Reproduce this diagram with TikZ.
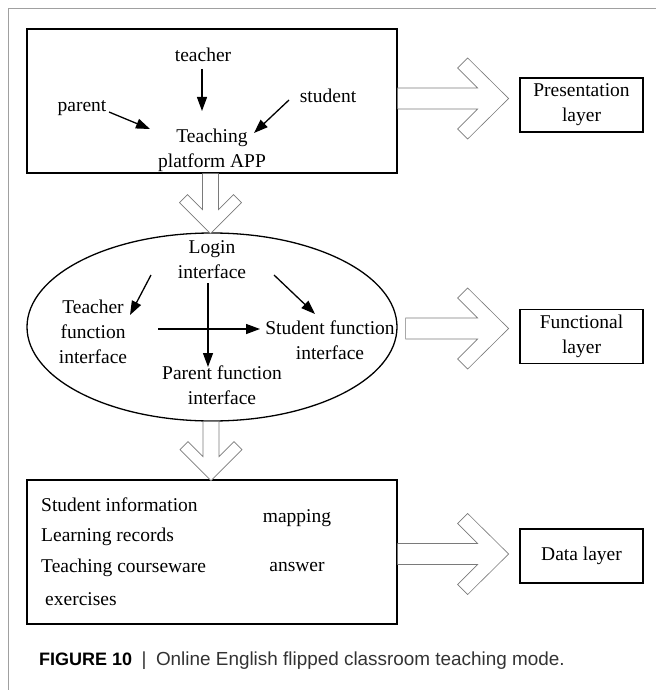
\documentclass[tikz,border=0pt]{standalone}
\usepackage{fontspec}
\setmainfont{Liberation Serif}
\newfontfamily\capfont{Liberation Sans}
\usetikzlibrary{arrows.meta,shapes.geometric,calc}
\definecolor{framegray}{HTML}{A0A0A0}
\definecolor{hollowgray}{HTML}{7A7A7A}
\definecolor{captext}{HTML}{333333}

% open block arrow pointing right: #1 start of shaft (centre line), #2 shaft length
\newcommand\hollowright[2]{%
  \draw[hollow] (#1) ++(0,-10.5) -- ++(#2,0) -- ++(-20,-20) -- ++(10,-10)
    -- ++(41,40.5) -- ++(-41,40.5) -- ++(-10,-10) -- ++(20,-20) -- ++(-#2,0) -- cycle;}
% open block arrow pointing down: #1 start of shaft (centre line), #2 shaft length
\newcommand\hollowdown[2]{%
  \draw[hollow] (#1) ++(-8,0) -- ++(0,#2) -- ++(-15,-15) -- ++(-8,8)
    -- ++(31,31) -- ++(31,-31) -- ++(-8,-8) -- ++(-15,15) -- ++(0,-#2) -- cycle;}

\begin{document}
\begin{tikzpicture}[x=1pt,y=-1pt,
  txt/.style={font=\fontsize{19.5}{25}\selectfont, align=center, inner sep=2pt},
  ltxt/.style={font=\fontsize{19.5}{25}\selectfont, anchor=west, inner sep=0pt},
  frame/.style={draw, line width=1.3pt},
  layerbox/.style={frame, txt, minimum width=123pt, minimum height=54pt, inner sep=0pt},
  arr/.style={-{Triangle[length=14pt,width=10pt]}, line width=1.3pt},
  hollow/.style={draw=hollowgray, line width=0.6pt, fill=white, line join=miter}]

\fill[white] (0,0) rectangle (656,690);
\useasboundingbox (0,0) rectangle (656,690);

% outer page rule
\draw[framegray, line width=0.8pt] (8,690) -- (8,8) -- (656,8);

% ---- presentation level
\node[frame, minimum width=370pt, minimum height=144pt] (platform) at (212,101) {};
\node[txt] (teacher) at (203,55) {teacher};
\node[txt] (parent) at (82,108) {parent};
\node[txt] (student) at (328,96) {student};
\node[txt] (app) at (212,150) {Teaching\\platform APP};
\node[layerbox] (pres) at (581.5,105) {Presentation\\layer};

\coordinate (tA) at (202,69);   \coordinate (tB) at (202,111);
\coordinate (pA) at (109,112);  \coordinate (pB) at (150,129);
\coordinate (sA) at (289,100);  \coordinate (sB) at (254,133);
\draw[arr] (tA) -- (tB);
\draw[arr] (pA) -- (pB);
\draw[arr] (sA) -- (sB);

% ---- functional level
\node[ellipse, draw, line width=1.3pt, minimum width=370pt, minimum height=188pt] (funcell) at (212,327) {};
\node[txt] (login) at (212,259.5) {Login\\interface};
\node[txt] (teacherfn) at (93,332) {Teacher\\function\\interface};
\node[txt] (studentfn) at (330,340.5) {Student function\\interface};
\node[txt] (parentfn) at (222,385.5) {Parent function\\interface};
\node[layerbox] (funclayer) at (581.5,336.5) {Functional\\layer};

\coordinate (lA) at (151,275);  \coordinate (lB) at (130,315);
\coordinate (rA) at (274,275);  \coordinate (rB) at (315,314);
\coordinate (vA) at (208,283);  \coordinate (vB) at (208,367);
\coordinate (hA) at (158,329);  \coordinate (hB) at (260,329);
\draw[arr] (lA) -- (lB);
\draw[arr] (rA) -- (rB);
\draw[arr] (vA) -- (vB);
\draw[arr] (hA) -- (hB);

% ---- data level
\node[frame, minimum width=370pt, minimum height=144pt] (store) at (212,552) {};
\node[ltxt] (sinfo) at (41,505) {Student information};
\node[ltxt] (lrec) at (41,537) {Learning records};
\node[ltxt] (tcw) at (41,568) {Teaching courseware};
\node[ltxt] (exer) at (45,599) {exercises};
\node[txt] (mapping) at (297,518) {mapping};
\node[txt] (answer) at (297,567) {answer};
\node[layerbox] (datalayer) at (581.5,556) {Data layer};

% ---- open block arrows between levels
\hollowright{$(platform.east)+(0,-2.5)$}{80}
\hollowright{$(funcell.east)+(8,1.5)$}{72}
\hollowright{$(store.east)+(0,2)$}{80}
\hollowdown{$(platform.south)+(-1.5,0)$}{36}
\hollowdown{$(funcell.south)+(-1,0)$}{35}

% ---- caption
\node[anchor=west, inner sep=0pt, font=\capfont\fontsize{18.9}{22}\selectfont, text=captext] (caption) at (39,661)
  {{\color{black}\fontsize{18}{22}\selectfont\bfseries FIGURE 10}\enspace|\enspace Online English flipped classroom teaching mode.};
\end{tikzpicture}
\end{document}
